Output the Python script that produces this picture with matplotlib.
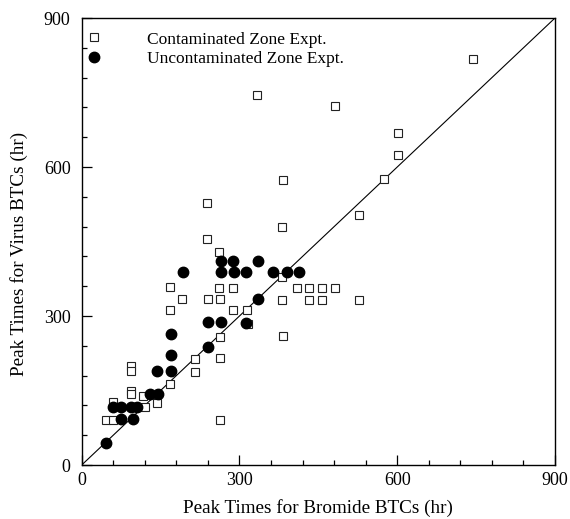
import matplotlib.pyplot as plt
from matplotlib.lines import Line2D
from matplotlib.ticker import MultipleLocator

plt.rcParams["font.family"] = ["Liberation Serif", "DejaVu Serif"]

# Contaminated zone experiment (open squares): bromide peak time, virus peak time
cont_bromide = [46, 59, 59, 93, 93, 93, 93, 120, 117, 143, 168, 216, 216,
                263, 263, 263, 381, 239, 262, 381, 168, 261, 287, 409, 433,
                456, 482, 191, 240, 263, 381, 433, 456, 528, 168, 287, 314,
                316, 382, 745, 334, 482, 601, 601, 383, 575, 528, 239]
cont_virus = [91, 91, 127, 199, 189, 149, 142, 116, 139, 124, 164, 213, 188,
              258, 215, 91, 480, 455, 429, 379, 358, 356, 356, 356, 356,
              356, 356, 334, 334, 334, 332, 332, 332, 332, 313, 312, 312,
              284, 260, 817, 744, 723, 668, 624, 574, 575, 503, 527]

# Uncontaminated zone experiment (filled circles)
unc_bromide = [47, 59, 74, 74, 93, 105, 97, 129, 146, 144, 169, 169, 169,
               241, 265, 288, 336, 192, 265, 290, 312, 363, 390, 414, 336,
               241, 265, 312]
unc_virus = [44, 117, 117, 92, 117, 117, 92, 144, 144, 189, 189, 221, 264,
             238, 411, 411, 411, 388, 388, 388, 388, 388, 388, 388, 334,
             287, 287, 286]

fig = plt.figure(figsize=(5.7, 5.19), dpi=100)
ax = fig.add_axes([0.1433, 0.104, 0.8304, 0.8613])

ax.plot([0, 900], [0, 900], color="black", lw=0.8, zorder=1)
ax.plot(cont_bromide, cont_virus, ls="none", marker="s", ms=5.2,
        mfc="white", mec="#222222", mew=0.8, zorder=2)
ax.plot(unc_bromide, unc_virus, ls="none", marker="o", ms=7.5,
        mfc="black", mec="black", zorder=3)

ax.set_xlim(0, 900)
ax.set_ylim(0, 900)
ax.xaxis.set_major_locator(MultipleLocator(300))
ax.yaxis.set_major_locator(MultipleLocator(300))
ax.xaxis.set_minor_locator(MultipleLocator(60))
ax.yaxis.set_minor_locator(MultipleLocator(60))
ax.tick_params(which="both", direction="in", top=False, right=False,
               labelsize=13, width=0.9)
ax.tick_params(which="major", length=7)
ax.tick_params(which="minor", length=3.6)
ax.tick_params(axis="x", pad=5)
ax.tick_params(axis="y", pad=8)
for s in ax.spines.values():
    s.set_linewidth(1.0)

ax.set_xlabel("Peak Times for Bromide BTCs (hr)", fontsize=13.8, labelpad=7)
ax.set_ylabel("Peak Times for Virus BTCs (hr)", fontsize=13.8)
ax.yaxis.set_label_coords(-0.113, 0.472)

handles = [
    Line2D([], [], ls="none", marker="s", ms=5.2, mfc="white",
           mec="#222222", mew=0.8),
    Line2D([], [], ls="none", marker="o", ms=7.5, mfc="black", mec="black"),
]
ax.legend(handles, ["Contaminated Zone Expt.", "Uncontaminated Zone Expt."],
          loc="upper left", bbox_to_anchor=(0.008, 0.970), frameon=False,
          fontsize=12.5, handlelength=1, handletextpad=2.53,
          borderpad=0, borderaxespad=0, labelspacing=0.17)

fig.savefig("out.png", dpi=100)
